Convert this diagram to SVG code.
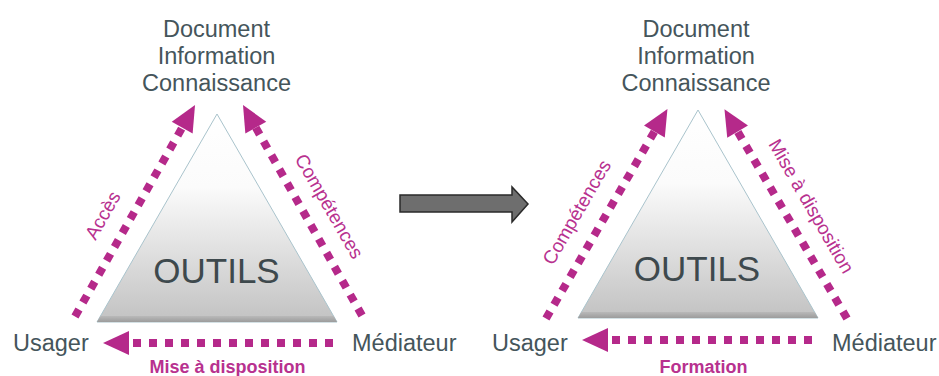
<svg xmlns="http://www.w3.org/2000/svg" width="939" height="376" viewBox="0 0 939 376">
<style>
.node{font-family:"Liberation Sans",Arial,sans-serif;font-size:23.5px;fill:#45555b;text-anchor:middle}
.big{font-family:"Liberation Sans",Arial,sans-serif;font-size:35px;fill:#3e494d;text-anchor:middle}
.lab{font-family:"Liberation Sans",Arial,sans-serif;font-size:19px;fill:#b8318f;text-anchor:middle}
.labb{font-family:"Liberation Sans",Arial,sans-serif;font-size:18px;font-weight:bold;fill:#b8318f;text-anchor:middle}
.dots{fill:none;stroke:#b5298a;stroke-width:8;stroke-dasharray:8 8;marker-end:url(#ah)}
.tri{fill:url(#tg);stroke:#a9c3cc;stroke-width:1}
.band{fill:url(#bg)}
</style>
<defs>
<linearGradient id="tg" x1="0" y1="0" x2="0" y2="1">
<stop offset="0" stop-color="#ffffff"/>
<stop offset="0.35" stop-color="#fbfbfb"/>
<stop offset="1" stop-color="#c2c2c2"/>
</linearGradient>
<linearGradient id="bg" x1="0" y1="0" x2="0" y2="1">
<stop offset="0" stop-color="#b9b9b9"/>
<stop offset="1" stop-color="#9c9c9c"/>
</linearGradient>
<marker id="ah" markerUnits="userSpaceOnUse" viewBox="0 0 26 24" markerWidth="26" markerHeight="24" refX="0" refY="12" orient="auto" overflow="visible">
<path d="M0,0 L26,12 L0,24 Z" fill="#b5298a"/>
</marker>
</defs>

<g id="left-diagram">
<g id="left-outils">
<polygon class="tri" points="217,114 337,322 97,322"/>
<polygon class="band" points="100.5,316 333.5,316 337,322 97,322"/>
<text class="big" x="216.5" y="283">OUTILS</text>
</g>
<g id="left-doc">
<text class="node" x="216.5" y="37">Document</text>
<text class="node" x="216.5" y="64">Information</text>
<text class="node" x="216.5" y="91">Connaissance</text>
</g>
<g id="left-usager"><text class="node" x="13" y="351" text-anchor="start" style="text-anchor:start">Usager</text></g>
<g id="left-mediateur"><text class="node" x="352" y="351" style="text-anchor:start">Médiateur</text></g>
<g id="left-connectors">
<path class="dots" d="M75,316.5 L182.2,127.6"/>
<path class="dots" d="M362,315.5 L255.8,127.6"/>
<path class="dots" d="M333,343 L129,343"/>
<text class="lab" transform="translate(104,216) rotate(-60)" y="5">Accès</text>
<text class="lab" transform="translate(328,207) rotate(60)" y="5">Compétences</text>
<text class="labb" x="227.5" y="373">Mise à disposition</text>
</g>
</g>

<g id="middle-arrow">
<path d="M400,195 L512,195 L512,187 L528,204 L512,222 L512,212 L400,212 Z" fill="#6e6e6e" stroke="#2a2a2a" stroke-width="1.5" stroke-linejoin="miter"/>
</g>

<g id="right-diagram">
<g id="right-outils">
<polygon class="tri" points="698,110 818,318 578,318"/>
<polygon class="band" points="581.5,312 814.5,312 818,318 578,318"/>
<text class="big" x="697" y="281">OUTILS</text>
</g>
<g id="right-doc">
<text class="node" x="696" y="37">Document</text>
<text class="node" x="696" y="64">Information</text>
<text class="node" x="696" y="91">Connaissance</text>
</g>
<g id="right-usager"><text class="node" x="492" y="351" style="text-anchor:start">Usager</text></g>
<g id="right-mediateur"><text class="node" x="832" y="351" style="text-anchor:start">Médiateur</text></g>
<g id="right-connectors">
<path class="dots" d="M546,318.5 L654.4,131.6"/>
<path class="dots" d="M847,318.5 L737.6,131.6"/>
<path class="dots" d="M812,340 L608,340"/>
<text class="lab" transform="translate(578,213) rotate(-60)" y="5">Compétences</text>
<text class="lab" transform="translate(810,207) rotate(60)" y="5">Mise à disposition</text>
<text class="labb" x="703.5" y="373">Formation</text>
</g>
</g>
</svg>
